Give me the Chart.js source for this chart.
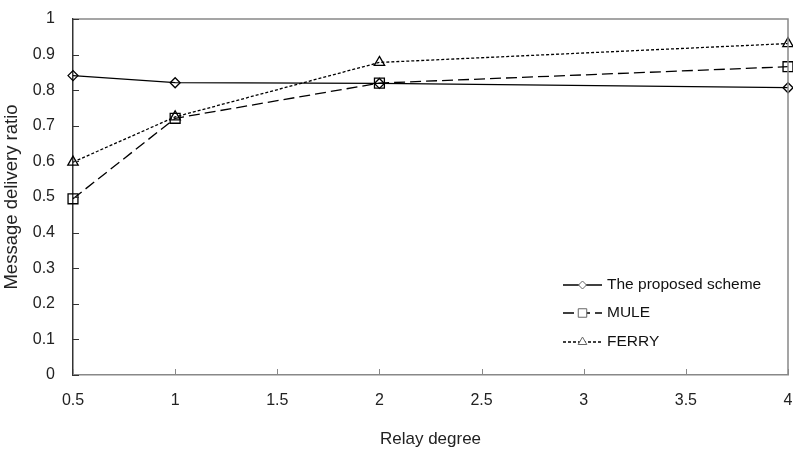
<!DOCTYPE html>
<html>
<head>
<meta charset="utf-8">
<script src="https://cdn.jsdelivr.net/npm/chart.js@4/dist/chart.umd.min.js"></script>
<style>
  html, body { margin: 0; padding: 0; background: #fff; }
  #wrap { width: 793px; height: 450px; }
</style>
</head>
<body>
<div id="wrap"><canvas id="c"></canvas></div>
<script>
const relayDegree = [0.5, 1, 2, 4];
const proposed = [0.841, 0.821, 0.819, 0.807];
const mule = [0.495, 0.721, 0.82, 0.866];
const ferry = [0.598, 0.725, 0.878, 0.931];
const seriesNames = ['The proposed scheme', 'MULE', 'FERRY'];

const FONT = '"Liberation Sans", Arial, sans-serif';
const pts = (ys) => relayDegree.map((x, i) => ({ x, y: ys[i] }));
const fmt = (v) => String(+Number(v).toFixed(1));

const styles = [
    { dash: [], pointStyle: 'rectRot', radius: 5 },
    { dash: [11, 5], pointStyle: 'rect', radius: 7 },
    { dash: [3, 2], pointStyle: 'triangle', radius: 6 }
];

// frame + inward ticks
const framePlugin = {
    id: 'frame',
    afterDatasetsDraw(chart) {
        const { ctx, chartArea: a, scales } = chart;
        ctx.save();
        ctx.lineWidth = 1.5;
        ctx.strokeStyle = '#888';
        ctx.beginPath();
        ctx.moveTo(a.left, a.top); ctx.lineTo(a.right, a.top); ctx.lineTo(a.right, a.bottom);
        ctx.stroke();
        ctx.lineWidth = 1;
        scales.x.ticks.forEach((t) => {
            const x = Math.round(scales.x.getPixelForValue(t.value)) + 0.5;
            ctx.beginPath(); ctx.moveTo(x, a.bottom); ctx.lineTo(x, a.bottom - 6); ctx.stroke();
        });
        ctx.strokeStyle = '#333';
        scales.y.ticks.forEach((t) => {
            const y = Math.round(scales.y.getPixelForValue(t.value)) + 0.5;
            ctx.beginPath(); ctx.moveTo(a.left, y); ctx.lineTo(a.left + 6, y); ctx.stroke();
        });
        ctx.restore();
    }
};

// legend drawn inside the plot
const legendPlugin = {
    id: 'inLegend',
    afterDraw(chart) {
        const { ctx } = chart;
        const x0 = 563, x1 = 602, rows = [285, 313, 342];
        ctx.save();
        chart.data.datasets.forEach((ds, i) => {
            const y = rows[i];
            ctx.strokeStyle = '#000';
            ctx.lineWidth = 1.3;
            ctx.setLineDash(ds.borderDash);
            ctx.beginPath(); ctx.moveTo(x0, y); ctx.lineTo(x1, y); ctx.stroke();
            ctx.setLineDash([]);
            ctx.fillStyle = '#fff';
            ctx.strokeStyle = '#666';
            ctx.lineWidth = 1;
            Chart.helpers.drawPoint(ctx, { pointStyle: ds.pointStyle, radius: ds.pointRadius - 1, borderWidth: 1, rotation: 0 }, (x0 + x1) / 2, y);
            ctx.fillStyle = '#111';
            ctx.font = '15.5px ' + FONT;
            ctx.textBaseline = 'middle';
            ctx.fillText(ds.label, 607, y);
        });
        ctx.restore();
    }
};

new Chart(document.getElementById('c'), {
    type: 'line',
    data: {
        datasets: [proposed, mule, ferry].map((ys, i) => ({
            label: seriesNames[i],
            data: pts(ys),
            borderColor: '#000',
            borderWidth: 1.3,
            borderDash: styles[i].dash,
            pointStyle: styles[i].pointStyle,
            pointRadius: styles[i].radius,
            pointBorderWidth: 1.3,
            pointBorderColor: '#000',
            pointBackgroundColor: 'rgba(255,255,255,0)',
            tension: 0,
            clip: false
        }))
    },
    options: {
        responsive: true,
        maintainAspectRatio: false,
        animation: false,
        layout: { autoPadding: false, padding: { top: 19, right: 5, left: 0, bottom: 0 } },
        plugins: { legend: { display: false }, tooltip: { enabled: false } },
        scales: {
            x: {
                type: 'linear',
                min: 0.5,
                max: 4,
                ticks: { stepSize: 0.5, callback: fmt, color: '#222', padding: 16, maxRotation: 0,
                    font: { family: FONT, size: 16 } },
                grid: { display: false, drawTicks: false },
                border: { display: true, color: '#888', width: 1.5 },
                title: { display: true, text: 'Relay degree', color: '#222', padding: { top: 17, bottom: 0 },
                    font: { family: FONT, size: 17 } },
                afterFit(s) { s.height = 75; s.paddingLeft = 0; s.paddingRight = 0; }
            },
            y: {
                min: 0,
                max: 1,
                ticks: { stepSize: 0.1, callback: fmt, color: '#222', padding: 18,
                    font: { family: FONT, size: 16 } },
                grid: { display: false, drawTicks: false },
                border: { display: true, color: '#333', width: 1.5 },
                title: { display: true, text: 'Message delivery ratio', color: '#222', padding: { top: 1, bottom: 4 },
                    font: { family: FONT, size: 18.5 } },
                afterFit(s) { s.width = 73; s.paddingTop = 0; s.paddingBottom = 0; }
            }
        }
    },
    plugins: [framePlugin, legendPlugin]
});
</script>
</body>
</html>
